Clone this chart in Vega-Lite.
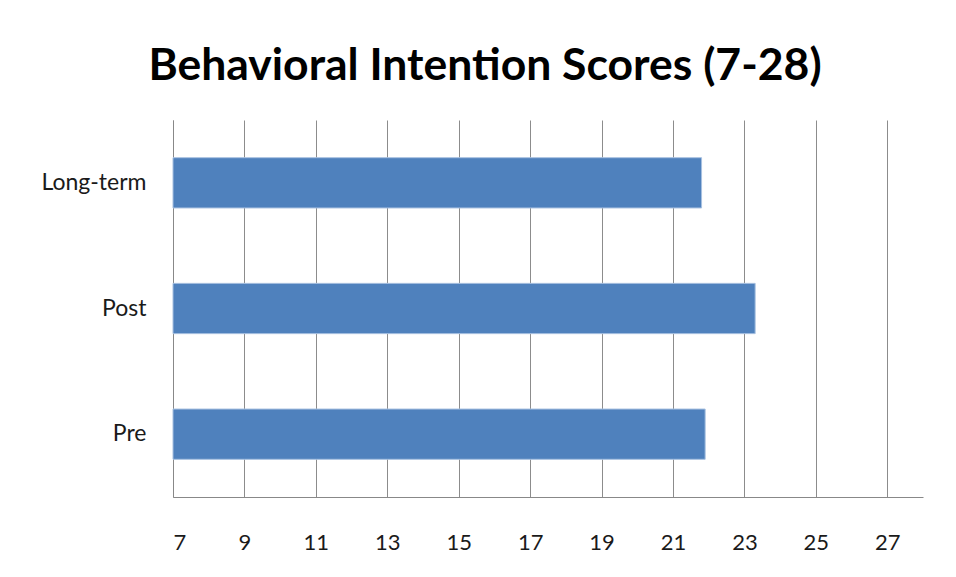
{
  "$schema": "https://vega.github.io/schema/vega-lite/v6.json",
  "width": 750,
  "height": 377,
  "autosize": "none",
  "padding": {"left": 173, "top": 120, "right": 33, "bottom": 80},
  "background": "white",
  "title": {
    "text": "Behavioral Intention Scores (7-28)",
    "font": "Lato",
    "fontWeight": "bold",
    "fontSize": 44.5,
    "color": "black",
    "anchor": "middle",
    "frame": "group",
    "dx": -63,
    "dy": 47,
    "baseline": "alphabetic",
    "offset": 43
  },
  "data": {
    "values": [
      {"period": "Long-term", "score": 21.8},
      {"period": "Post", "score": 23.3},
      {"period": "Pre", "score": 21.9}
    ]
  },
  "config": {"view": {"stroke": null}},
  "mark": {"type": "bar", "color": "#4F81BD", "stroke": "#A7C0E0", "strokeWidth": 1},
  "encoding": {
    "y": {
      "field": "period",
      "type": "nominal",
      "sort": ["Long-term", "Post", "Pre"],
      "scale": {"paddingInner": 0.6, "paddingOuter": 0.3},
      "axis": {
        "title": null,
        "ticks": false,
        "grid": false,
        "domainColor": "#888888",
        "labelFont": "Lato",
        "labelFontSize": 23,
        "labelColor": "#1a1a1a",
        "labelPadding": 27
      }
    },
    "x": {
      "field": "score",
      "type": "quantitative",
      "scale": {"domain": [7, 28], "nice": false, "zero": false},
      "axis": {
        "title": null,
        "values": [7, 9, 11, 13, 15, 17, 19, 21, 23, 25, 27],
        "ticks": false,
        "grid": true,
        "gridColor": "#8c8c8c",
        "gridWidth": 1,
        "domainColor": "#888888",
        "labelFont": "Lato",
        "labelFontSize": 22,
        "labelColor": "#1a1a1a",
        "labelPadding": 35
      }
    },
    "x2": {"datum": 7}
  }
}
